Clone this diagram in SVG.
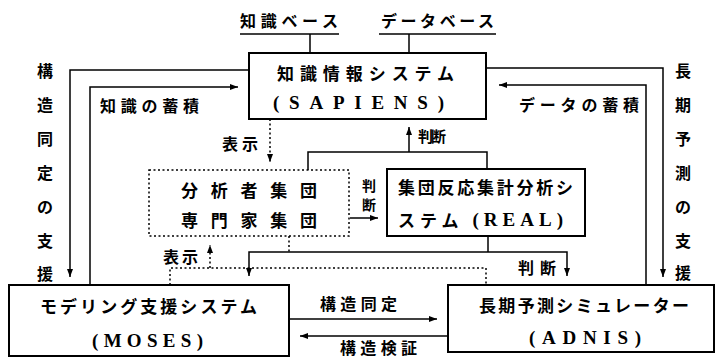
<svg xmlns="http://www.w3.org/2000/svg" width="716" height="358" viewBox="0 0 716 358">
<defs>
<marker id="ah" markerUnits="userSpaceOnUse" markerWidth="8" markerHeight="6" refX="8" refY="3" orient="auto">
<path d="M0,0 L8,3 L0,6 z" fill="#000"/>
</marker>
<style>
.ln{stroke:#000;stroke-width:1.5;fill:none}
.dt{stroke:#000;stroke-width:1.5;fill:none;stroke-dasharray:2 2.5}
.box{fill:#fff;stroke:#000;stroke-width:2}
.dbox{fill:#fff;stroke:#000;stroke-width:1.5;stroke-dasharray:2 2.5}
text{font-family:"Noto Sans CJK JP","Noto Sans CJK SC",sans-serif;font-size:16px;font-weight:bold;fill:#000;dominant-baseline:central}
.lat{font-family:"Liberation Serif","Noto Sans CJK JP",serif;font-size:19px;font-weight:bold}
.mid{text-anchor:middle}
</style>
</defs>
<rect width="716" height="358" fill="#fff"/>

<g id="connectors">
<path class="ln" d="M310,34 V53"/>
<path class="ln" d="M409,34 V53"/>
<path class="ln" d="M249,70 H70 V277" marker-end="url(#ah)"/>
<path class="ln" d="M90,285 V87 H238" marker-end="url(#ah)"/>
<path class="ln" d="M486,68 H663 V277" marker-end="url(#ah)"/>
<path class="ln" d="M646,285 V85 H499" marker-end="url(#ah)"/>
<path class="dt" d="M270,119 V162" marker-end="url(#ah)"/>
<path class="ln" d="M308,170 V152 H487 V169"/>
<path class="ln" d="M409,152 V127" marker-end="url(#ah)"/>
<path class="ln" d="M350,218 H378" marker-end="url(#ah)"/>
<path class="ln" d="M488,236 V252"/>
<path class="ln" d="M488,252 H249 V276" marker-end="url(#ah)"/>
<path class="ln" d="M488,252 H567 V276" marker-end="url(#ah)"/>
<path class="dt" d="M289,236 V252"/>
<path class="dt" d="M170,285 V268 H486 V285"/>
<path class="dt" d="M210,268 V245" marker-end="url(#ah)"/>
<path class="ln" d="M289,319 H437" marker-end="url(#ah)"/>
<path class="ln" d="M448,336 H300" marker-end="url(#ah)"/>
</g>

<g id="labels">
<text x="100" y="105" textLength="99">知識の蓄積</text>
<text x="519" y="104" textLength="120">データの蓄積</text>
<text x="222" y="143" textLength="36">表示</text>
<text x="418" y="135" textLength="28" style="font-size:15px">判断</text>
<text class="mid" x="369" y="185" style="font-size:14px">判</text>
<text class="mid" x="369" y="204" style="font-size:14px">断</text>
<text x="163" y="256" textLength="35">表示</text>
<text x="518" y="267" textLength="38">判断</text>
<text x="320" y="303" textLength="77">構造同定</text>
<text x="340" y="347" textLength="77">構造検証</text>
<text class="mid"><tspan x="45" y="70">構</tspan><tspan x="45" y="104">造</tspan><tspan x="45" y="138">同</tspan><tspan x="45" y="172">定</tspan><tspan x="45" y="206">の</tspan><tspan x="45" y="240">支</tspan><tspan x="45" y="273">援</tspan></text>
<text class="mid"><tspan x="683" y="70">長</tspan><tspan x="683" y="104">期</tspan><tspan x="683" y="138">予</tspan><tspan x="683" y="172">測</tspan><tspan x="683" y="206">の</tspan><tspan x="683" y="240">支</tspan><tspan x="683" y="272">援</tspan></text>
</g>

<g id="knowledge-base">
<text x="240" y="20" textLength="98">知識ベース</text>
<path class="ln" d="M240,34 H339"/>
</g>

<g id="database">
<text x="381" y="20" textLength="113">データベース</text>
<path class="ln" d="M379,34 H496"/>
</g>

<g id="sapiens">
<rect class="box" x="249" y="53" width="237" height="66"/>
<text x="277" y="72" textLength="177" style="font-size:17px">知識情報システム</text>
<text class="lat" x="273" y="102" textLength="171">(SAPIENS)</text>
</g>

<g id="analysts">
<rect class="dbox" x="149" y="170" width="200" height="66"/>
<text x="181" y="189" textLength="136" style="font-size:17px">分析者集団</text>
<text x="181" y="219" textLength="136" style="font-size:17px">専門家集団</text>
</g>

<g id="real">
<rect class="box" x="387" y="169" width="198" height="67"/>
<text x="398" y="186" textLength="175" style="font-size:17px">集団反応集計分析シ</text>
<text x="398" y="219" textLength="165" style="font-size:17px">ステム <tspan class="lat">(REAL)</tspan></text>
</g>

<g id="moses">
<rect class="box" x="9" y="285" width="280" height="71"/>
<text x="40" y="305" textLength="217" style="font-size:17px">モデリング支援システム</text>
<text class="lat" x="92" y="340" textLength="111">(MOSES)</text>
</g>

<g id="adnis">
<rect class="box" x="448" y="285" width="266" height="67"/>
<text x="479" y="304" textLength="210" style="font-size:17px">長期予測シミュレーター</text>
<text class="lat" x="529" y="337" textLength="112">(ADNIS)</text>
</g>
</svg>
